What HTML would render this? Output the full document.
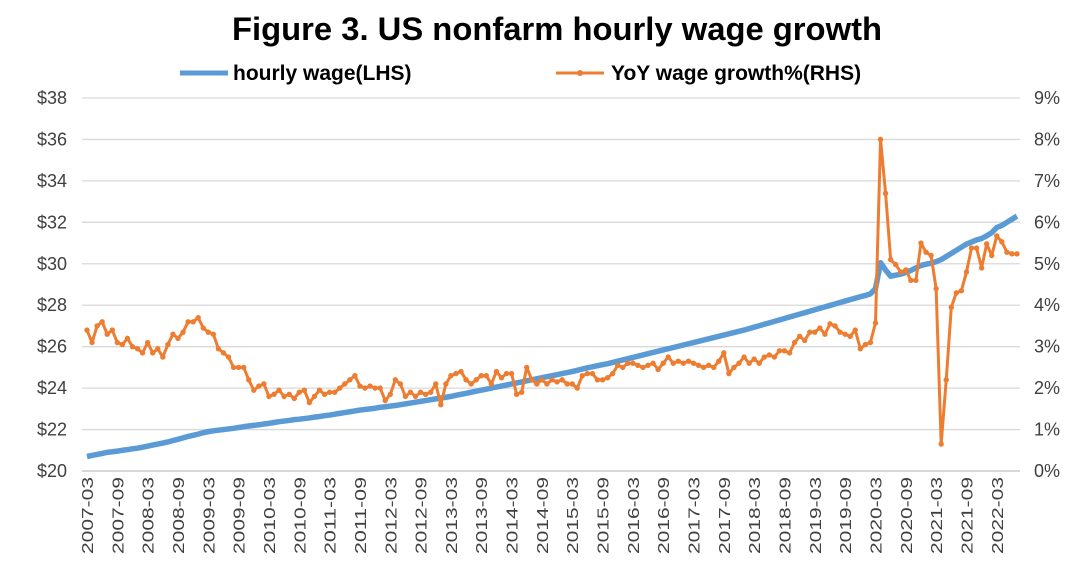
<!DOCTYPE html>
<html><head><meta charset="utf-8"><style>
body{margin:0;background:#fff;font-family:"Liberation Sans",sans-serif}
svg{display:block}
</style></head><body>
<svg id="chart" width="1080" height="567">
<text x="557" y="40" text-anchor="middle" font-size="32" font-weight="bold" fill="#000" textLength="650" lengthAdjust="spacingAndGlyphs">Figure 3. US nonfarm hourly wage growth</text>
<g>
<line x1="180" y1="73" x2="228" y2="73" stroke="#5B9BD5" stroke-width="5"/>
<text x="233" y="80" font-size="21" font-weight="bold">hourly wage(LHS)</text>
<line x1="556" y1="73" x2="604" y2="73" stroke="#ED7D31" stroke-width="3"/>
<circle cx="580" cy="73" r="3" fill="#ED7D31"/>
<text x="611" y="80" font-size="21" font-weight="bold">YoY wage growth%(RHS)</text>
</g>
<g id="grid"></g><g id="axes"></g><g id="series"></g>
</svg>
<script>
const startYear=2007,startMonth=3;
const wage=[20.70,20.75,20.80,20.85,20.90,20.93,20.96,21.00,21.03,21.07,
21.10,21.15,21.20,21.25,21.30,21.35,21.40,21.47,21.53,21.60,21.67,21.72,
21.78,21.85,21.90,21.94,21.97,22.00,22.03,22.06,22.10,22.14,22.17,22.20,
22.23,22.27,22.30,22.34,22.38,22.41,22.44,22.48,22.50,22.53,22.56,22.60,
22.63,22.67,22.70,22.74,22.78,22.82,22.86,22.90,22.94,22.97,23.00,23.03,
23.07,23.10,23.13,23.16,23.20,23.24,23.28,23.32,23.36,23.40,23.44,23.48,
23.52,23.56,23.60,23.65,23.70,23.75,23.80,23.85,23.90,23.95,24.00,24.05,
24.10,24.15,24.20,24.25,24.30,24.35,24.40,24.45,24.50,24.55,24.60,24.65,
24.70,24.75,24.80,24.86,24.92,24.98,25.03,25.08,25.13,25.18,25.24,25.30,
25.36,25.42,25.48,25.54,25.60,25.66,25.72,25.78,25.84,25.90,25.96,26.02,
26.08,26.14,26.20,26.26,26.32,26.38,26.44,26.50,26.56,26.62,26.68,26.74,
26.80,26.87,26.94,27.01,27.08,27.15,27.22,27.29,27.36,27.43,27.50,27.57,
27.64,27.71,27.78,27.85,27.92,27.99,28.06,28.13,28.20,28.27,28.34,28.41,
28.47,28.55,28.80,30.05,29.70,29.40,29.45,29.50,29.58,29.68,29.80,29.92,
29.98,30.03,30.10,30.20,30.35,30.50,30.65,30.80,30.95,31.05,31.15,31.22,
31.35,31.50,31.75,31.85,32.00,32.15,32.30];
const growth=[3.4,3.1,3.5,3.6,3.3,3.4,3.1,3.05,3.2,3.0,
2.95,2.85,3.1,2.85,2.95,2.75,3.05,3.3,3.2,3.35,3.6,3.6,
3.7,3.45,3.35,3.3,2.95,2.85,2.75,2.5,2.5,2.5,2.2,1.95,
2.05,2.1,1.8,1.85,1.95,1.8,1.85,1.75,1.9,1.95,1.65,1.8,
1.95,1.85,1.9,1.9,2.0,2.1,2.2,2.3,2.05,2.0,2.05,2.0,
2.0,1.7,1.85,2.2,2.1,1.8,1.9,1.8,1.9,1.85,1.9,2.1,
1.6,2.1,2.3,2.35,2.4,2.2,2.1,2.2,2.3,2.3,2.1,2.4,
2.25,2.35,2.35,1.85,1.9,2.5,2.2,2.1,2.2,2.1,2.2,2.15,
2.2,2.1,2.1,2.0,2.3,2.35,2.35,2.2,2.2,2.25,2.35,2.55,
2.5,2.6,2.6,2.55,2.5,2.55,2.6,2.45,2.6,2.75,2.6,2.65,
2.6,2.65,2.6,2.55,2.5,2.55,2.5,2.65,2.85,2.35,2.5,2.6,
2.75,2.6,2.7,2.6,2.75,2.8,2.75,2.9,2.9,2.85,3.1,3.25,
3.15,3.35,3.35,3.45,3.3,3.55,3.5,3.35,3.3,3.25,3.4,2.95,
3.05,3.1,3.57,8.0,6.7,5.1,4.98,4.8,4.85,4.6,4.6,5.5,
5.28,5.2,4.4,0.65,2.2,3.95,4.3,4.35,4.8,5.38,5.38,4.9,
5.48,5.2,5.67,5.53,5.28,5.24,5.24];
const leftTicks=["$20","$22","$24","$26","$28","$30","$32","$34","$36","$38"];
const rightTicks=["0%","1%","2%","3%","4%","5%","6%","7%","8%","9%"];
const NS="http://www.w3.org/2000/svg";
const X0=87,X1=1017,YT=98,YB=471;
const n=growth.length;
const xs=i=>X0+(X1-X0)*i/(n-1);
const yL=v=>YB-(v-20)/18*(YB-YT);
const yR=v=>YB-v/9*(YB-YT);
function mk(tag,attrs,parent){const e=document.createElementNS(NS,tag);for(const k in attrs)e.setAttribute(k,attrs[k]);parent.appendChild(e);return e;}
const grid=document.getElementById('grid'),axes=document.getElementById('axes'),ser=document.getElementById('series');
leftTicks.forEach((t,i)=>{
  const y=YB-i*(YB-YT)/9;
  const l=mk('line',{x1:82,x2:1020,y1:y,y2:y,stroke:i===0?'#bfbfbf':'#d9d9d9','stroke-width':1.3},grid);
  
  
  const a=mk('text',{x:67,y:y+6,'text-anchor':'end','font-size':18,fill:'#404040'},axes);a.textContent=t;
  
  
  const b=mk('text',{x:1034,y:y+6,'font-size':18,fill:'#404040'},axes);b.textContent=rightTicks[i];
  
  
});
for(let i=0;i<n;i+=6){
  const m=startMonth-1+i,yr=startYear+Math.floor(m/12),mo=(m%12)+1;
  const lab=yr+'-'+(mo<10?'0'+mo:mo);
  const x=xs(i);
  const t=mk('text',{x:0,y:0,'text-anchor':'end','font-size':15.5,fill:'#404040',textLength:77,lengthAdjust:'spacingAndGlyphs',transform:`translate(${x+6},477) rotate(-90)`},axes);
  t.textContent=lab;
  
  
}
const wp=mk('polyline',{points:wage.map((v,i)=>xs(i)+','+yL(v)).join(' '),fill:'none',stroke:'#5B9BD5','stroke-width':5.5,'stroke-linejoin':'round'},ser);


const gp=mk('polyline',{points:growth.map((v,i)=>xs(i)+','+yR(v)).join(' '),fill:'none',stroke:'#ED7D31','stroke-width':3,'stroke-linejoin':'round'},ser);


growth.forEach((v,i)=>{
  const c=mk('circle',{cx:xs(i),cy:yR(v),r:2.7,fill:'#ED7D31'},ser);
  
  
});
</script>
</body></html>
